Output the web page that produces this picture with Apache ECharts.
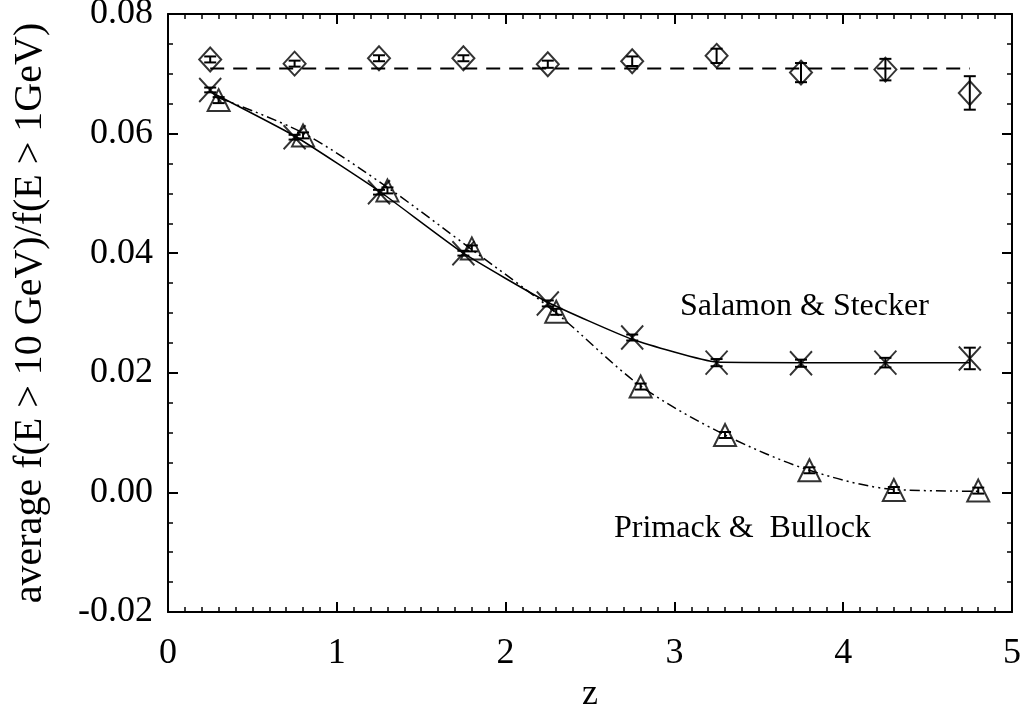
<!DOCTYPE html>
<html>
<head>
<meta charset="utf-8">
<script src="https://cdn.jsdelivr.net/npm/echarts@6/dist/echarts.min.js"></script>
<style>
  html, body { margin: 0; padding: 0; background: #fff; }
  #chart { width: 1020px; height: 708px; }
</style>
</head>
<body>
<div id="chart"></div>
<script>
// redshift positions
const zDiamond = [0.25, 0.75, 1.25, 1.75, 2.25, 2.75, 3.25, 3.75, 4.25, 4.75]
const zCross = [0.25, 0.75, 1.25, 1.75, 2.25, 2.75, 3.25, 3.75, 4.25, 4.75]
const zTriangle = [0.3, 0.8, 1.3, 1.8, 2.3, 2.8, 3.3, 3.8, 4.3, 4.8]

// no-absorption points (diamonds)
const diamondVals = [0.0724, 0.0717, 0.0726, 0.0726, 0.0716, 0.0721, 0.0730, 0.0702, 0.0707, 0.0668]
const diamondErr = [0.0005, 0.0005, 0.0005, 0.0005, 0.0006, 0.0008, 0.0012, 0.0016, 0.0018, 0.0028]
const refLevel = 0.0709

// Salamon & Stecker (crosses)
const crossVals = [0.0673, 0.0594, 0.0502, 0.0400, 0.0316, 0.0259, 0.0217, 0.0216, 0.0217, 0.0224]
const crossErr = [0.0004, 0.0004, 0.0004, 0.0004, 0.0005, 0.0005, 0.0006, 0.0006, 0.0008, 0.0018]
const ssCurve = [0.0670, 0.0596, 0.0504, 0.0400, 0.0318, 0.0256, 0.0218, 0.0217, 0.0217, 0.0217]

// Primack & Bullock (triangles)
const triVals = [0.0656, 0.0597, 0.0505, 0.0408, 0.0302, 0.0177, 0.0096, 0.0037, 0.0004, 0.0003]
const triErr = [0.0005, 0.0005, 0.0005, 0.0005, 0.0005, 0.0005, 0.0005, 0.0005, 0.0005, 0.0005]
const pbCurve = [0.0660, 0.0601, 0.0510, 0.0406, 0.0300, 0.0178, 0.0096, 0.0037, 0.0005, 0.0002]

const xTicks = [0, 1, 2, 3, 4, 5]
const yTicks = [-0.02, 0.00, 0.02, 0.04, 0.06, 0.08]

const serif = '"Liberation Serif", "DejaVu Serif", serif'
const pair = (xs, ys) => xs.map((x, i) => [x, ys[i]])
const withErr = (xs, ys, es) => xs.map((x, i) => [x, ys[i], es[i]])

function errBars(params, api) {
  const x = api.value(0)
  const y = api.value(1)
  const e = api.value(2)
  const top = api.coord([x, y + e])
  const bot = api.coord([x, y - e])
  const cap = 6
  const style = { stroke: '#000', lineWidth: 2 }
  return {
    type: 'group',
    children: [
      { type: 'line', shape: { x1: top[0], y1: top[1], x2: bot[0], y2: bot[1] }, style },
      { type: 'line', shape: { x1: top[0] - cap, y1: top[1], x2: top[0] + cap, y2: top[1] }, style },
      { type: 'line', shape: { x1: bot[0] - cap, y1: bot[1], x2: bot[0] + cap, y2: bot[1] }, style }
    ]
  }
}

const axisCommon = {
  axisLine: { onZero: false, lineStyle: { color: '#000', width: 2 } },
  axisTick: { inside: true, length: 10, lineStyle: { color: '#000', width: 2 } },
  minorTick: { show: true, length: 5, lineStyle: { color: '#000', width: 1.5 } },
  splitLine: { show: false }
}

const chart = echarts.init(document.getElementById('chart'))
chart.setOption({
  animation: false,
  backgroundColor: '#fff',
  grid: { left: 168, right: 8, top: 14, bottom: 96, containLabel: false, outerBoundsMode: 'none' },
  xAxis: [
    Object.assign({}, axisCommon, {
      type: 'value', min: xTicks[0], max: xTicks[xTicks.length - 1], interval: 1,
      minorTick: Object.assign({}, axisCommon.minorTick, { splitNumber: 10 }),
      name: 'z', nameLocation: 'middle', nameGap: 64,
      nameTextStyle: { fontFamily: serif, fontSize: 36, color: '#000' },
      axisLabel: { margin: 24, fontFamily: serif, fontSize: 36, color: '#000' }
    }),
    Object.assign({}, axisCommon, {
      type: 'value', position: 'top', min: 0, max: 5, interval: 1,
      minorTick: Object.assign({}, axisCommon.minorTick, { splitNumber: 10 }),
      axisLabel: { show: false }
    })
  ],
  yAxis: [
    Object.assign({}, axisCommon, {
      type: 'value', min: yTicks[0], max: yTicks[yTicks.length - 1], interval: 0.02,
      minorTick: Object.assign({}, axisCommon.minorTick, { splitNumber: 4 }),
      name: 'average f(E > 10 GeV)/f(E > 1GeV)', nameLocation: 'middle', nameGap: 118,
      nameTextStyle: { fontFamily: serif, fontSize: 40, color: '#000' },
      axisLabel: { margin: 15, fontFamily: serif, fontSize: 36, color: '#000', formatter: v => v.toFixed(2) }
    }),
    Object.assign({}, axisCommon, {
      type: 'value', position: 'right', min: -0.02, max: 0.08, interval: 0.02,
      minorTick: Object.assign({}, axisCommon.minorTick, { splitNumber: 4 }),
      axisLabel: { show: false }
    })
  ],
  graphic: [
    { type: 'text', left: 680, top: 291, style: { text: 'Salamon & Stecker', font: '32px ' + serif, fill: '#000' } },
    { type: 'text', left: 614, top: 513, style: { text: 'Primack &  Bullock', font: '32px ' + serif, fill: '#000' } }
  ],
  series: [
    {
      type: 'line', data: [[zDiamond[0], refLevel], [zDiamond[zDiamond.length - 1], refLevel]],
      showSymbol: false, lineStyle: { color: '#000', width: 2, type: [14, 9] }
    },
    {
      type: 'line', data: pair(zCross, ssCurve), smooth: 0.15, showSymbol: false,
      lineStyle: { color: '#000', width: 1.5 }
    },
    {
      type: 'line', data: pair(zTriangle, pbCurve), smooth: 0.3, showSymbol: false,
      lineStyle: { color: '#000', width: 1.5, type: [10, 4, 2, 4, 2, 4] }
    },
    { type: 'custom', renderItem: errBars, data: withErr(zDiamond, diamondVals, diamondErr), z: 3 },
    { type: 'custom', renderItem: errBars, data: withErr(zCross, crossVals, crossErr), z: 3 },
    { type: 'custom', renderItem: errBars, data: withErr(zTriangle, triVals, triErr), z: 3 },
    {
      type: 'scatter', data: pair(zDiamond, diamondVals), symbol: 'diamond', symbolSize: [22, 24],
      itemStyle: { color: 'rgba(0,0,0,0)', borderColor: '#000', borderWidth: 2 }, z: 4
    },
    {
      type: 'scatter', data: pair(zCross, crossVals), symbol: 'path://M0,0L20,22M20,0L0,22', symbolSize: [22, 24],
      itemStyle: { color: 'rgba(0,0,0,0)', borderColor: '#000', borderWidth: 2 }, z: 4
    },
    {
      type: 'scatter', data: pair(zTriangle, triVals), symbol: 'triangle', symbolSize: [22, 22],
      itemStyle: { color: 'rgba(0,0,0,0)', borderColor: '#000', borderWidth: 2 }, z: 4
    }
  ]
})
</script>
</body>
</html>
